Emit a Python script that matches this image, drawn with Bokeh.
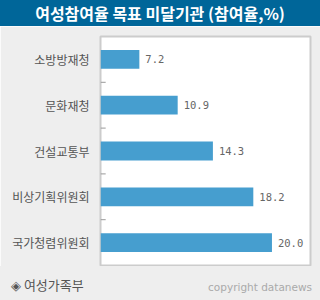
from bokeh.plotting import figure
from bokeh.models import Div, ColumnDataSource, FactorRange
from bokeh.layouts import column
from bokeh.transform import dodge
from bokeh.core.properties import value
from bokeh.embed import file_html
from bokeh.resources import INLINE

title_text = "여성참여율 목표 미달기관 (참여율,%)"
categories = ["소방방재청", "문화재청", "건설교통부", "비상기획위원회", "국가청렴위원회"]
rates = [7.2, 10.9, 14.3, 18.2, 20.0]
rate_labels = ["7.2", "10.9", "14.3", "18.2", "20.0"]
source_text = "◈ 여성가족부"
credit_text = "copyright datanews"

src = ColumnDataSource(dict(cat=categories, val=rates, lab=rate_labels))
sep = ColumnDataSource(dict(cat=categories[:-1]))

head = Div(text=title_text, width=320, height=26, margin=0,
           styles={"background-color": "#006699", "color": "white",
                   "font-size": "16px", "font-weight": "bold",
                   "text-align": "center", "line-height": "26px",
                   "font-family": "Noto Sans CJK KR", "overflow": "hidden"})

p = figure(width=320, height=240, output_backend="svg", toolbar_location=None,
           y_range=FactorRange(factors=categories[::-1], range_padding=0),
           x_range=(3.45, 23.72),
           min_border_left=100, min_border_right=10, min_border_top=10, min_border_bottom=1,
           background_fill_color="white", border_fill_color="#eeeeee",
           outline_line_color="#cccccc", outline_line_width=2)
p.margin = 0
p.grid.visible = False
p.xaxis.visible = False
ya = p.yaxis[0]
ya.axis_line_color = None
ya.major_tick_line_color = None
ya.major_label_standoff = 5
ya.major_label_text_font = "Noto Sans CJK KR"
ya.major_label_text_font_size = "12px"
ya.major_label_text_color = "#555555"

p.hbar(y="cat", right="val", left=3.45, height=0.41, source=src,
       fill_color="#469ecf", line_color=None)
p.text(x="val", y="cat", text="lab", source=src, x_offset=6,
       text_baseline="middle", text_align="left",
       text_font=value("DejaVu Sans Mono"), text_font_size="10.5px",
       text_color="#666666")
p.segment(x0=3.45, x1=3.95, y0=dodge("cat", -0.5, range=p.y_range),
          y1=dodge("cat", -0.5, range=p.y_range), source=sep,
          line_color="#999999", line_width=1)

foot = Div(text=(
    '<div style="position:relative;width:320px;height:34px;">'
    '<span style="position:absolute;left:11px;top:11px;font-family:\'Noto Sans CJK KR\';'
    'font-size:13px;line-height:16px;color:#555555;white-space:nowrap;">' + source_text + '</span>'
    '<span style="position:absolute;right:8px;top:15px;font-family:\'DejaVu Sans\';'
    'font-size:10.5px;line-height:12px;color:#aaaaaa;white-space:nowrap;">' + credit_text + '</span>'
    '</div>'),
    width=320, height=34, margin=0,
    styles={"background-color": "#eeeeee", "overflow": "hidden"})

layout = column(head, p, foot, spacing=0, margin=0)
open("out.html", "w").write(file_html(layout, INLINE))
